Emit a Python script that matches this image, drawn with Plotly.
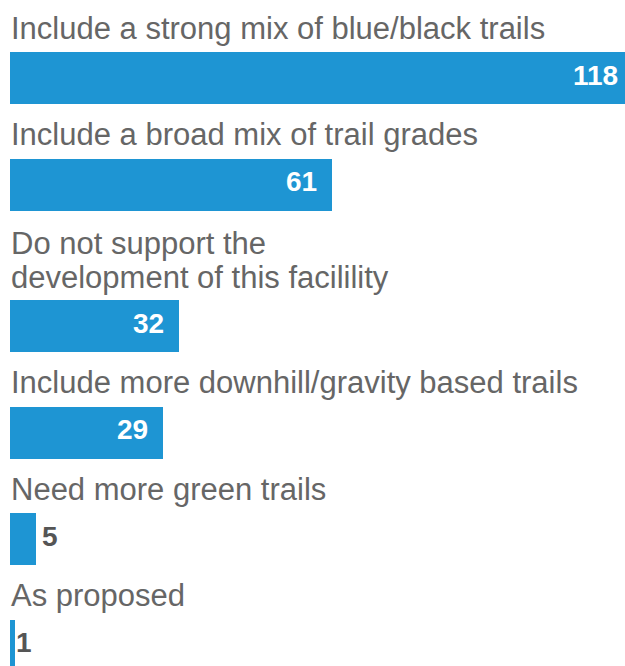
import plotly.graph_objects as go

# Data
categories = [
    ["Include a strong mix of blue/black trails"],
    ["Include a broad mix of trail grades"],
    ["Do not support the", "development of this facilility"],
    ["Include more downhill/gravity based trails"],
    ["Need more green trails"],
    ["As proposed"],
]
values = [118, 61, 32, 29, 5, 1]

# Layout constants (pixels)
W, H = 625, 666
LEFT = 10
BAR_H = 52
PITCH = 106.5
LINE_EXTRA = 35
LINE_SP = 34
FIRST_TOP = 52
BASE_GAP = 13
FS_LABEL = 31
FS_VALUE = 28
OUTSIDE_LIMIT = 10
PX_PER_UNIT = 5.28
X_MAX = (W - LEFT) / PX_PER_UNIT

# bar centers computed from label line counts
centers = []
extra = 0
for i, lines in enumerate(categories):
    extra += (len(lines) - 1) * LINE_EXTRA
    centers.append(FIRST_TOP + BAR_H / 2 + i * PITCH + extra)

BAR_COLOR = "#1e95d3"
LABEL_COLOR = "#666666"
VALUE_OUT_COLOR = "#555555"
FONT = "Liberation Sans, Arial, Helvetica, sans-serif"

fig = go.Figure()
fig.add_trace(go.Bar(
    x=values,
    y=centers,
    orientation="h",
    width=BAR_H,
    marker=dict(color=BAR_COLOR, line=dict(width=0)),
    hoverinfo="skip",
))

annotations = []
for lines, yc in zip(categories, centers):
    bar_top = yc - BAR_H / 2
    n = len(lines)
    for j, line in enumerate(lines):
        baseline = bar_top - BASE_GAP - (n - 1 - j) * LINE_SP + (1 if n > 1 else 0)
        annotations.append(dict(
            x=0, xref="paper", xanchor="left", xshift=LEFT - 1,
            y=baseline - 0.3465 * FS_LABEL, yref="y", yanchor="middle",
            text=line, showarrow=False, align="left",
            font=dict(size=FS_LABEL, color=LABEL_COLOR, family=FONT),
        ))

for v, yc in zip(values, centers):
    if v >= OUTSIDE_LIMIT:
        xa = min(v, X_MAX)
        annotations.append(dict(
            x=xa, xref="x", xanchor="right", xshift=-13 + (v - xa) * PX_PER_UNIT,
            y=yc, yref="y", yanchor="middle", yshift=3,
            text=str(v), showarrow=False,
            font=dict(size=FS_VALUE, color="white", family=FONT, weight="bold"),
        ))
    else:
        annotations.append(dict(
            x=v, xref="x", xanchor="left", xshift=4 if v > 1 else -1,
            y=yc, yref="y", yanchor="middle", yshift=3,
            text=str(v), showarrow=False,
            font=dict(size=FS_VALUE, color=VALUE_OUT_COLOR, family=FONT, weight="bold"),
        ))

fig.update_layout(
    width=W, height=H,
    margin=dict(l=0, r=0, t=0, b=0),
    paper_bgcolor="white", plot_bgcolor="white",
    showlegend=False,
    annotations=annotations,
    xaxis=dict(range=[0, X_MAX], domain=[LEFT / W, 1], visible=False, fixedrange=True),
    yaxis=dict(range=[H, 0], visible=False, fixedrange=True),
    bargap=0,
)

fig.write_html(
    "out.html",
    config={"displayModeBar": False},
    post_script="document.body.style.margin='0';document.body.style.overflow='hidden';",
)
